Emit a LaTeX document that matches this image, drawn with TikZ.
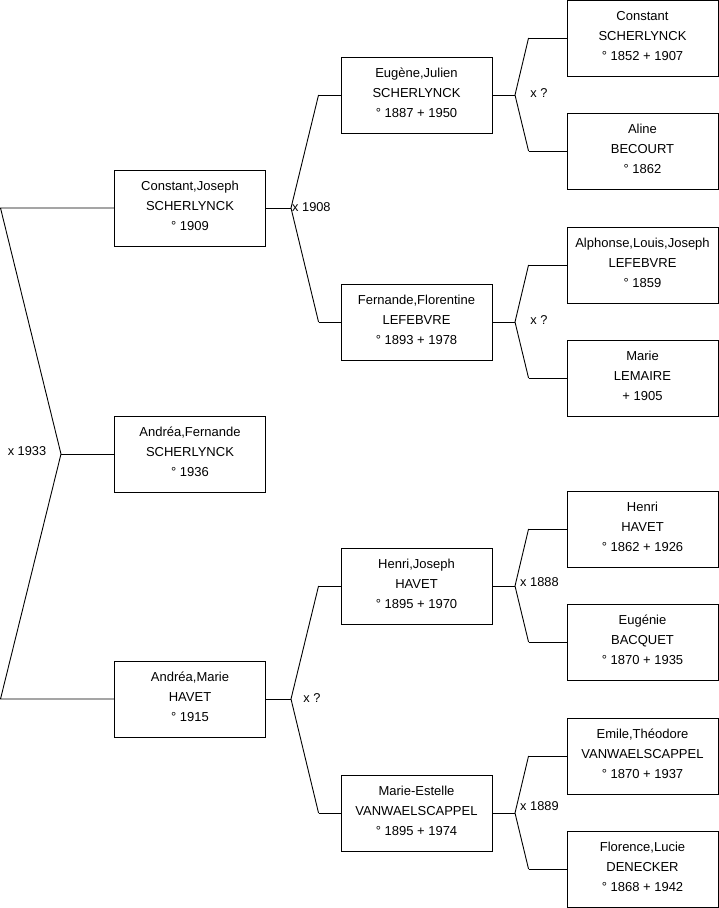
\documentclass[tikz,border=0pt]{standalone}
\usepackage{fontspec}
\setmainfont{Liberation Sans}
\begin{document}
\begin{tikzpicture}[x=1pt,y=-1pt,
  box/.style={draw=black,line width=0.9pt,minimum width=151pt,minimum height=76pt,inner sep=0pt,
    align=center,text depth=4pt,font=\fontsize{13}{20}\selectfont},
  lbl/.style={font=\fontsize{12.8}{15}\selectfont,inner sep=0pt},
  conn/.style={line width=0.9pt,black}]
\useasboundingbox (0,0) rectangle (719,908);
% level 1
\node[box] (cj) at (190,208) {Constant,Joseph\\SCHERLYNCK\\° 1909};
\node[box] (af) at (190,454) {Andréa,Fernande\\SCHERLYNCK\\° 1936};
\node[box] (am) at (190,699) {Andréa,Marie\\HAVET\\° 1915};
% level 2
\node[box] (ej) at (416.5,95) {Eugène,Julien\\SCHERLYNCK\\° 1887 + 1950};
\node[box] (ff) at (416.5,322) {Fernande,Florentine\\LEFEBVRE\\° 1893 + 1978};
\node[box] (hj) at (416.5,586) {Henri,Joseph\\HAVET\\° 1895 + 1970};
\node[box] (me) at (416.5,813) {Marie-Estelle\\VANWAELSCAPPEL\\° 1895 + 1974};
% level 3
\node[box] (cs) at (642.5,38) {Constant\\SCHERLYNCK\\° 1852 + 1907};
\node[box] (ab) at (642.5,151) {Aline\\BECOURT\\° 1862};
\node[box] (al) at (642.5,265) {Alphonse,Louis,Joseph\\LEFEBVRE\\° 1859};
\node[box] (ml) at (642.5,378) {Marie\\LEMAIRE\\+ 1905};
\node[box] (hh) at (642.5,529) {Henri\\HAVET\\° 1862 + 1926};
\node[box] (eb) at (642.5,642) {Eugénie\\BACQUET\\° 1870 + 1935};
\node[box] (et) at (642.5,756) {Emile,Théodore\\VANWAELSCAPPEL\\° 1870 + 1937};
\node[box] (fl) at (642.5,869) {Florence,Lucie\\DENECKER\\° 1868 + 1942};
% fork points
\coordinate (r0) at (61,454);
\coordinate (r0a) at (0.5,208);
\coordinate (r0b) at (0.5,699);
\coordinate (f1) at (291,208);
\coordinate (f2) at (291,699);
\coordinate (g1) at (515,95);
\coordinate (g2) at (515,322);
\coordinate (g3) at (515,586);
\coordinate (g4) at (515,813);
% connectors
\draw[conn] (cj.west) -- (r0a) -- (r0) -- (r0b) -- (am.west);
\draw[conn] (r0) -- (af.west);
\foreach \b/\f/\t/\u in {cj/f1/ej/ff, am/f2/hj/me}{
  \draw[conn] (\b.east) -- (\f);
  \draw[conn] ([xshift=-22pt]\t.west) -- (\f) -- ([xshift=-22pt]\u.west);
  \draw[conn] ([xshift=-22pt]\t.west) -- (\t.west);
  \draw[conn] ([xshift=-22pt]\u.west) -- (\u.west);
}
\foreach \b/\f/\t/\u in {ej/g1/cs/ab, ff/g2/al/ml, hj/g3/hh/eb, me/g4/et/fl}{
  \draw[conn] (\b.east) -- (\f);
  \draw[conn] ([xshift=-38pt]\t.west) -- (\f) -- ([xshift=-38pt]\u.west);
  \draw[conn] ([xshift=-38pt]\t.west) -- (\t.west);
  \draw[conn] ([xshift=-38pt]\u.west) -- (\u.west);
}
% labels
\node[lbl] (l0) at (27,451) {x 1933};
\node[lbl,anchor=west] (l1) at (292,207) {x 1908};
\node[lbl] (l2) at (539,93) {x ?};
\node[lbl] (l3) at (539,320) {x ?};
\node[lbl] (l4) at (312,698) {x ?};
\node[lbl,anchor=west] (l5) at (520,582) {x 1888};
\node[lbl,anchor=west] (l6) at (520,806) {x 1889};
\end{tikzpicture}
\end{document}
